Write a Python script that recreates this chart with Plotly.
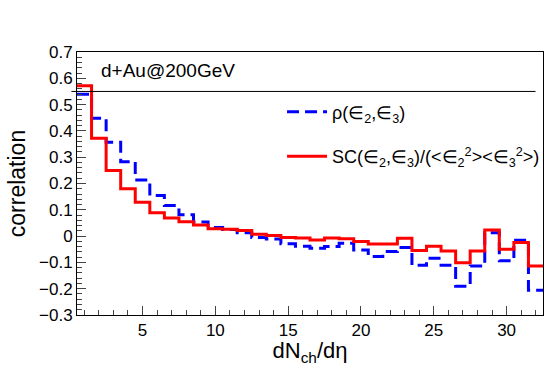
import plotly.graph_objects as go

# bin centres of dNch/deta (unit width bins)
dndeta = list(range(1, 33))

rho_e2e3 = [0.539, 0.448, 0.357, 0.283, 0.213, 0.154, 0.116, 0.081, 0.054, 0.033,
            0.025, 0.013, -0.005, -0.011, -0.029, -0.039, -0.046, -0.040, -0.027, -0.053,
            -0.078, -0.059, -0.043, -0.111, -0.084, -0.111, -0.191, -0.114, 0.013, -0.094,
            -0.016, -0.206]

sc_norm = [0.572, 0.372, 0.249, 0.180, 0.129, 0.089, 0.069, 0.055, 0.042, 0.028,
           0.026, 0.021, 0.007, 0.002, -0.005, -0.007, -0.015, -0.007, -0.010, -0.021,
           -0.030, -0.030, -0.008, -0.055, -0.039, -0.057, -0.101, -0.057, 0.023, -0.050,
           -0.024, -0.114]

ref_level = 0.55


def step_xy(centres, vals):
    # histogram outline: bin edges with 'hv' steps
    edges = [c - 0.5 for c in centres] + [centres[-1] + 0.5]
    return edges, list(vals) + [vals[-1]]


font = "Liberation Sans, Arial, sans-serif"

fig = go.Figure()
x, y = step_xy(dndeta, rho_e2e3)
fig.add_trace(go.Scatter(x=x, y=y, mode="lines", line_shape="hv",
                         line=dict(color="#0000ff", width=3, dash="12px,6px"),
                         name="ρ(∈<sub>2</sub>,∈<sub>3</sub>)", legendgroup="a"))
x, y = step_xy(dndeta, sc_norm)
fig.add_trace(go.Scatter(x=x, y=y, mode="lines", line_shape="hv",
                         line=dict(color="#ff0000", width=3),
                         name="SC(∈<sub>2</sub>,∈<sub>3</sub>)/(<∈<sub>2</sub><sup>2</sup>><∈<sub>3</sub><sup>2</sup>>)",
                         legendgroup="b"))

fig.add_shape(type="line", xref="paper", yref="y", x0=-0.012, x1=0.984,
              y0=ref_level, y1=ref_level, line=dict(color="black", width=1))

fig.add_annotation(text="d+Au@200GeV", xref="paper", yref="paper", x=0.048, y=0.928,
                   xanchor="left", yanchor="middle", showarrow=False,
                   font=dict(size=19, color="black", family=font))

fig.update_layout(
    width=556, height=366,
    margin=dict(l=77, r=11, t=52, b=51),
    paper_bgcolor="white", plot_bgcolor="white",
    font=dict(family=font, color="black"),
    showlegend=True,
    legend=dict(x=0.44, y=0.842, xanchor="left", yanchor="top",
                bgcolor="rgba(0,0,0,0)", font=dict(size=18),
                tracegroupgap=18, itemwidth=40),
    xaxis=dict(range=[0.5, 32.5], dtick=5, tick0=0, ticks="inside", ticklen=9,
               tickfont=dict(size=17), showgrid=False, zeroline=False,
               showline=True, linecolor="black", linewidth=1, mirror=True,
               automargin=False,
               minor=dict(dtick=1, ticks="inside", ticklen=5, showgrid=False),
               title=dict(text="dN<sub>ch</sub>/dη", font=dict(size=22), standoff=4)),
    yaxis=dict(range=[-0.3, 0.7], dtick=0.1, ticks="inside", ticklen=9,
               tickfont=dict(size=17), showgrid=False, zeroline=False,
               showline=True, linecolor="black", linewidth=1, mirror=True,
               automargin=False,
               minor=dict(dtick=0.02, ticks="inside", ticklen=5, showgrid=False),
               title=dict(text="correlation", font=dict(size=23), standoff=6)),
)

# drop the default page margin so the figure sits at the window's corner
fig.write_html("out.html", config={"displayModeBar": False},
               post_script="document.body.style.margin='0';")
